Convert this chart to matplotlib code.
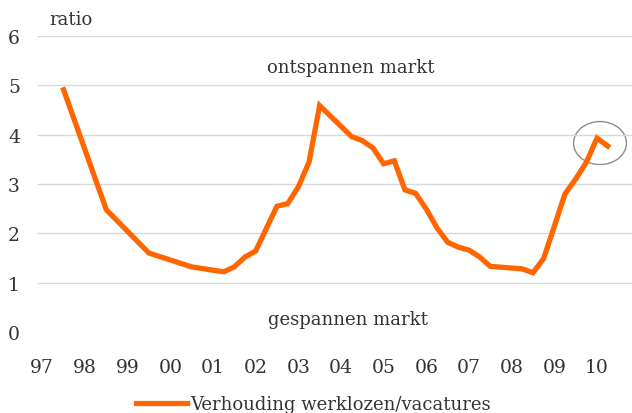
import matplotlib.pyplot as plt
from matplotlib.patches import Ellipse

# quarterly ratio werklozen / vacatures
quarters = [1997.5, 1998.5, 1999.5, 2000.5, 2001.25, 2001.5, 2001.75, 2002.0,
            2002.5, 2002.75, 2003.0, 2003.25, 2003.5, 2004.25, 2004.5, 2004.75,
            2005.0, 2005.25, 2005.5, 2005.75, 2006.0, 2006.25, 2006.5, 2006.75,
            2007.0, 2007.25, 2007.5, 2008.25, 2008.5, 2008.75, 2009.25, 2009.5,
            2009.75, 2010.0, 2010.25]
ratio = [4.91, 2.48, 1.60, 1.32, 1.22, 1.32, 1.52, 1.64,
         2.55, 2.60, 2.94, 3.44, 4.59, 3.96, 3.88, 3.73,
         3.41, 3.47, 2.88, 2.81, 2.49, 2.11, 1.82, 1.72,
         1.66, 1.52, 1.33, 1.28, 1.20, 1.49, 2.80, 3.10,
         3.44, 3.93, 3.77]

year_ticks = list(range(1997, 2011))
year_labels = ['97', '98', '99', '00', '01', '02', '03', '04', '05', '06', '07', '08', '09', '10']
y_ticks = [0, 1, 2, 3, 4, 5, 6]

plt.rcParams['font.family'] = ['DejaVu Serif']
txt_color = '#333333'
fs = 13

fig = plt.figure(figsize=[6.32, 4.14], dpi=100)
ax = fig.add_axes([38 / 632, 1 - 333 / 414, 1 - 38 / 632, (333 - 37) / 414])

ax.plot(quarters, ratio, color='#FF6600', lw=3.8, solid_joinstyle='miter',
        label='Verhouding werklozen/vacatures')

# circle around the latest values
ax.add_patch(Ellipse((2010.07, 3.83), 1.24, 0.87, fill=False, ec='#8c8c8c', lw=1))

ax.set_xlim(1996.9, 2010.82)
ax.set_ylim(0, 6)
ax.set_xticks(year_ticks)
ax.set_xticklabels(year_labels)
ax.set_yticks(y_ticks)
ax.tick_params(length=0, labelsize=13.5, labelcolor=txt_color)
ax.tick_params(axis='y', pad=13)
ax.tick_params(axis='x', pad=19)
ax.grid(axis='y', color='#d9d9d9', lw=1)
ax.yaxis.get_gridlines()[0].set_visible(False)
for s in ax.spines.values():
    s.set_visible(False)

ax.text(2004.24, 5.38, 'ontspannen markt', ha='center', va='center', fontsize=fs, color=txt_color)
ax.text(2004.17, 0.26, 'gespannen markt', ha='center', va='center', fontsize=fs, color=txt_color)
fig.text(71 / 632, 1 - 20 / 414, 'ratio', ha='center', va='center', fontsize=fs, color=txt_color)

ax.legend(loc='upper left', bbox_to_anchor=(136 / 632, 1 - 396 / 414), bbox_transform=fig.transFigure,
          frameon=False, fontsize=fs, handlelength=2.8, handletextpad=0.2, borderpad=0,
          borderaxespad=0, labelcolor=txt_color)

fig.savefig('out.png', dpi=100)
